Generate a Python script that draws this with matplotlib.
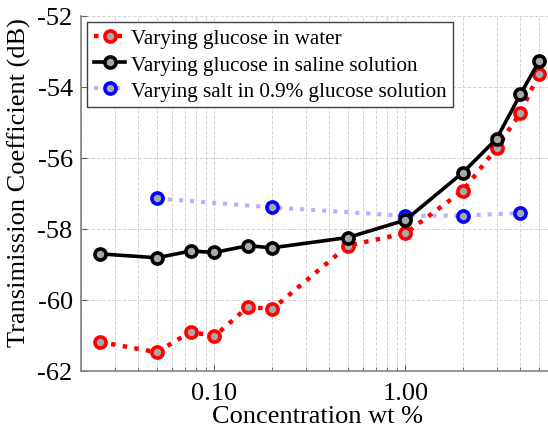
import matplotlib
matplotlib.use("Agg")
import matplotlib.pyplot as plt
from matplotlib.ticker import FixedLocator, FixedFormatter, LogLocator, NullFormatter

plt.rcParams['font.family'] = ['Liberation Serif', 'DejaVu Serif']

# concentrations (wt %) and transmission coefficient (dB)
x_glucose = [0.025, 0.05, 0.075, 0.1, 0.15, 0.2, 0.5, 1, 2, 3, 4, 5]
y_water = [-61.18, -61.47, -60.90, -61.02, -60.19, -60.26, -58.47, -58.12, -56.92, -55.72, -54.73, -53.63]
y_saline = [-58.70, -58.81, -58.62, -58.66, -58.47, -58.53, -58.24, -57.75, -56.41, -55.46, -54.21, -53.28]
x_salt = [0.05, 0.2, 1, 2, 4]
y_salt = [-57.14, -57.39, -57.63, -57.62, -57.55]

labels = ['Varying glucose in water', 'Varying glucose in saline solution',
          'Varying salt in 0.9% glucose solution']
xticks = [0.1, 1.0]
xticklabels = ['0.10', '1.00']
yticks = [-62, -60, -58, -56, -54, -52]

fig = plt.figure(figsize=(5.48, 4.31), dpi=100)
ax = fig.add_axes([81/548, 1-372/431, (554-81)/548, (372-17)/431])

face = '#a8a8a8'
l3, = ax.plot(x_salt, y_salt, linestyle=':', color='#b4b4ff', linewidth=3.0,
              marker='o', markersize=8, markerfacecolor=face, markeredgecolor='#0000ff',
              markeredgewidth=2.6, zorder=2, label=labels[2])
l1, = ax.plot(x_glucose, y_water, linestyle=':', color='#ff0000', linewidth=3.2,
              marker='o', markersize=8, markerfacecolor=face, markeredgecolor='#ff0000',
              markeredgewidth=2.6, zorder=3, label=labels[0])
l2, = ax.plot(x_glucose, y_saline, linestyle='-', color='black', linewidth=2.6,
              marker='o', markersize=8, markerfacecolor=face, markeredgecolor='black',
              markeredgewidth=2.6, zorder=4, label=labels[1])

ax.set_xscale('log')
ax.set_xlim(0.02, 6)
ax.set_ylim(-62, -52)
ax.xaxis.set_major_locator(FixedLocator(xticks))
ax.xaxis.set_major_formatter(FixedFormatter(xticklabels))
ax.xaxis.set_minor_locator(LogLocator(base=10, subs=range(2, 10)))
ax.xaxis.set_minor_formatter(NullFormatter())
ax.set_yticks(yticks)
ax.set_yticklabels([str(v) for v in yticks])

ax.grid(True, which='both', axis='x', linestyle='--', color='#d4d4d4', linewidth=0.7)
ax.grid(True, which='major', axis='y', linestyle='--', color='#d4d4d4', linewidth=0.7)
ax.set_axisbelow(True)

for s in ['top', 'right']:
    ax.spines[s].set_visible(False)
for s in ['left', 'bottom']:
    ax.spines[s].set_color('#808080')
    ax.spines[s].set_linewidth(1.2)
ax.tick_params(which='both', direction='in', color='#606060', labelsize=19)
ax.tick_params(axis='x', pad=8)
ax.tick_params(axis='y', pad=6)
ax.tick_params(which='major', length=4)
ax.tick_params(which='minor', length=3)

ax.set_xlabel('Concentration wt %', fontsize=19, labelpad=0.5)
ax.set_ylabel('Transimission Coefficient (dB)', fontsize=19)
ax.yaxis.set_label_coords(-0.106, 0.535)

leg = ax.legend(handles=[l1, l2, l3], loc='upper left', fontsize=15.2, fancybox=False,
                framealpha=1, edgecolor='#404040', handlelength=1.5, handletextpad=0.25,
                borderpad=0.3, labelspacing=0.3, borderaxespad=0.3, markerscale=1)
leg.get_frame().set_linewidth(1.0)

fig.savefig('out.png', dpi=100)
